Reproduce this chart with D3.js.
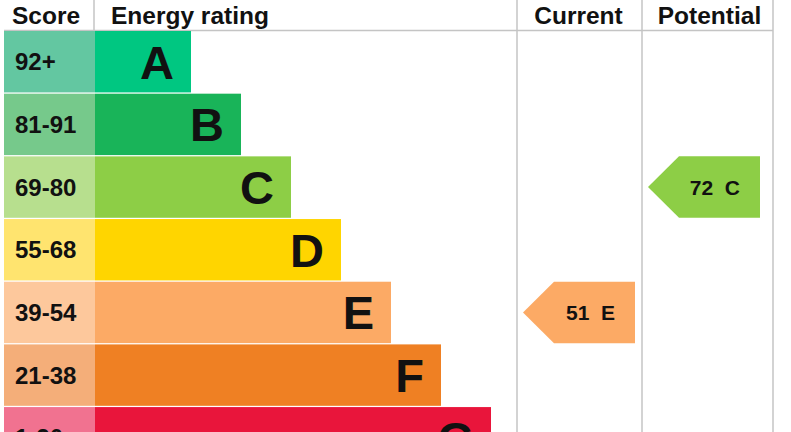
<!DOCTYPE html>
<html>
<head>
<meta charset="utf-8">
<script src="https://cdn.jsdelivr.net/npm/d3@7"></script>
<style>
  body { margin: 0; background: #fff; }
  text { font-family: "Liberation Sans", Arial, sans-serif; font-weight: bold; fill: #111; }
</style>
</head>
<body>
<div id="chart"></div>
<script>
let bands = ["A", "B", "C", "D", "E", "F", "G"];
let scores = ["92+", "81-91", "69-80", "55-68", "39-54", "21-38", "1-20"];
let barColors = ["#00c781", "#19b459", "#8dce46", "#ffd500", "#fcaa65", "#ef8023", "#e9153b"];
let scoreColors = ["#63c7a1", "#76c98b", "#b7df8e", "#ffe46f", "#fdc89c", "#f4ae79", "#f17290"];
let current = {value: 51, band: "E"};
let potential = {value: 72, band: "C"};

let width = 791, height = 432;
let svg = d3.select("#chart").append("svg")
  .attr("width", width)
  .attr("height", height);

let headerH = 31;
let y = d3.scaleBand()
  .domain(bands)
  .range([headerH, headerH + 62.5 * bands.length])
  .paddingInner(0.02);

// bar end position by band index
let barEnd = d3.scaleLinear()
  .domain([0, bands.length - 1])
  .range([191, 491]);

let scoreX0 = 4, barX0 = 95, curX0 = 517, potX0 = 642, rightX = 773;

// grid lines
svg.append("line")
  .attr("x1", 4).attr("x2", rightX)
  .attr("y1", 30.5).attr("y2", 30.5)
  .attr("stroke", "#c4c4c4").attr("stroke-width", 1.5);

[94, curX0, potX0, rightX].forEach(function(x, i){
  svg.append("line")
    .attr("x1", x).attr("x2", x)
    .attr("y1", 0).attr("y2", i == 0 ? 31 : height)
    .attr("stroke", "#c4c4c4").attr("stroke-width", 1.5);
});

// header
let hdr = "24.5px";
svg.append("text").attr("x", 12).attr("y", 24).style("font-size", hdr).text("Score");
svg.append("text").attr("x", 111).attr("y", 24).style("font-size", hdr).text("Energy rating");
svg.append("text").attr("x", (curX0 + potX0) / 2 - 1).attr("y", 24)
  .attr("text-anchor", "middle").style("font-size", hdr).text("Current");
svg.append("text").attr("x", (potX0 + rightX) / 2 + 2).attr("y", 24)
  .attr("text-anchor", "middle").style("font-size", hdr).text("Potential");

// score cells
svg.selectAll("rect.score")
  .data(bands)
  .enter()
  .append("rect")
  .attr("class", "score")
  .attr("x", scoreX0)
  .attr("y", function(d){ return y(d); })
  .attr("width", barX0 - scoreX0)
  .attr("height", y.bandwidth())
  .style("fill", function(d, i){ return scoreColors[i]; });

svg.selectAll("text.score")
  .data(bands)
  .enter()
  .append("text")
  .attr("class", "score")
  .attr("x", 15)
  .attr("y", function(d){ return y(d) + y.bandwidth() / 2; })
  .attr("dy", "0.36em")
  .style("font-size", "24px")
  .text(function(d, i){ return scores[i]; });

// rating bars
svg.selectAll("rect.bar")
  .data(bands)
  .enter()
  .append("rect")
  .attr("class", "bar")
  .attr("x", barX0)
  .attr("y", function(d){ return y(d); })
  .attr("width", function(d, i){ return barEnd(i) - barX0; })
  .attr("height", y.bandwidth())
  .style("fill", function(d, i){ return barColors[i]; });

svg.selectAll("text.bar")
  .data(bands)
  .enter()
  .append("text")
  .attr("class", "bar")
  .attr("x", function(d, i){ return barEnd(i) - 17; })
  .attr("y", function(d){ return y(d) + y.bandwidth() / 2; })
  .attr("dy", "0.36em")
  .attr("text-anchor", "end")
  .style("font-size", "47px")
  .text(function(d){ return d; });

// arrows
let arrow = function(rating, x0){
  let top = y(rating.band), h = y.bandwidth();
  let tip = x0 + 6, back = x0 + 118, notch = tip + 31;
  let color = barColors[bands.indexOf(rating.band)];
  svg.append("path")
    .attr("d", "M" + tip + "," + (top + h / 2) +
               "L" + notch + "," + top +
               "L" + back + "," + top +
               "L" + back + "," + (top + h) +
               "L" + notch + "," + (top + h) + "Z")
    .style("fill", color);
  svg.append("text")
    .attr("x", back - 20)
    .attr("y", top + h / 2)
    .attr("dy", "0.36em")
    .attr("text-anchor", "end")
    .style("font-size", "21px")
    .attr("xml:space", "preserve")
    .text(rating.value + "  " + rating.band);
};
arrow(current, curX0);
arrow(potential, potX0);
</script>
</body>
</html>
